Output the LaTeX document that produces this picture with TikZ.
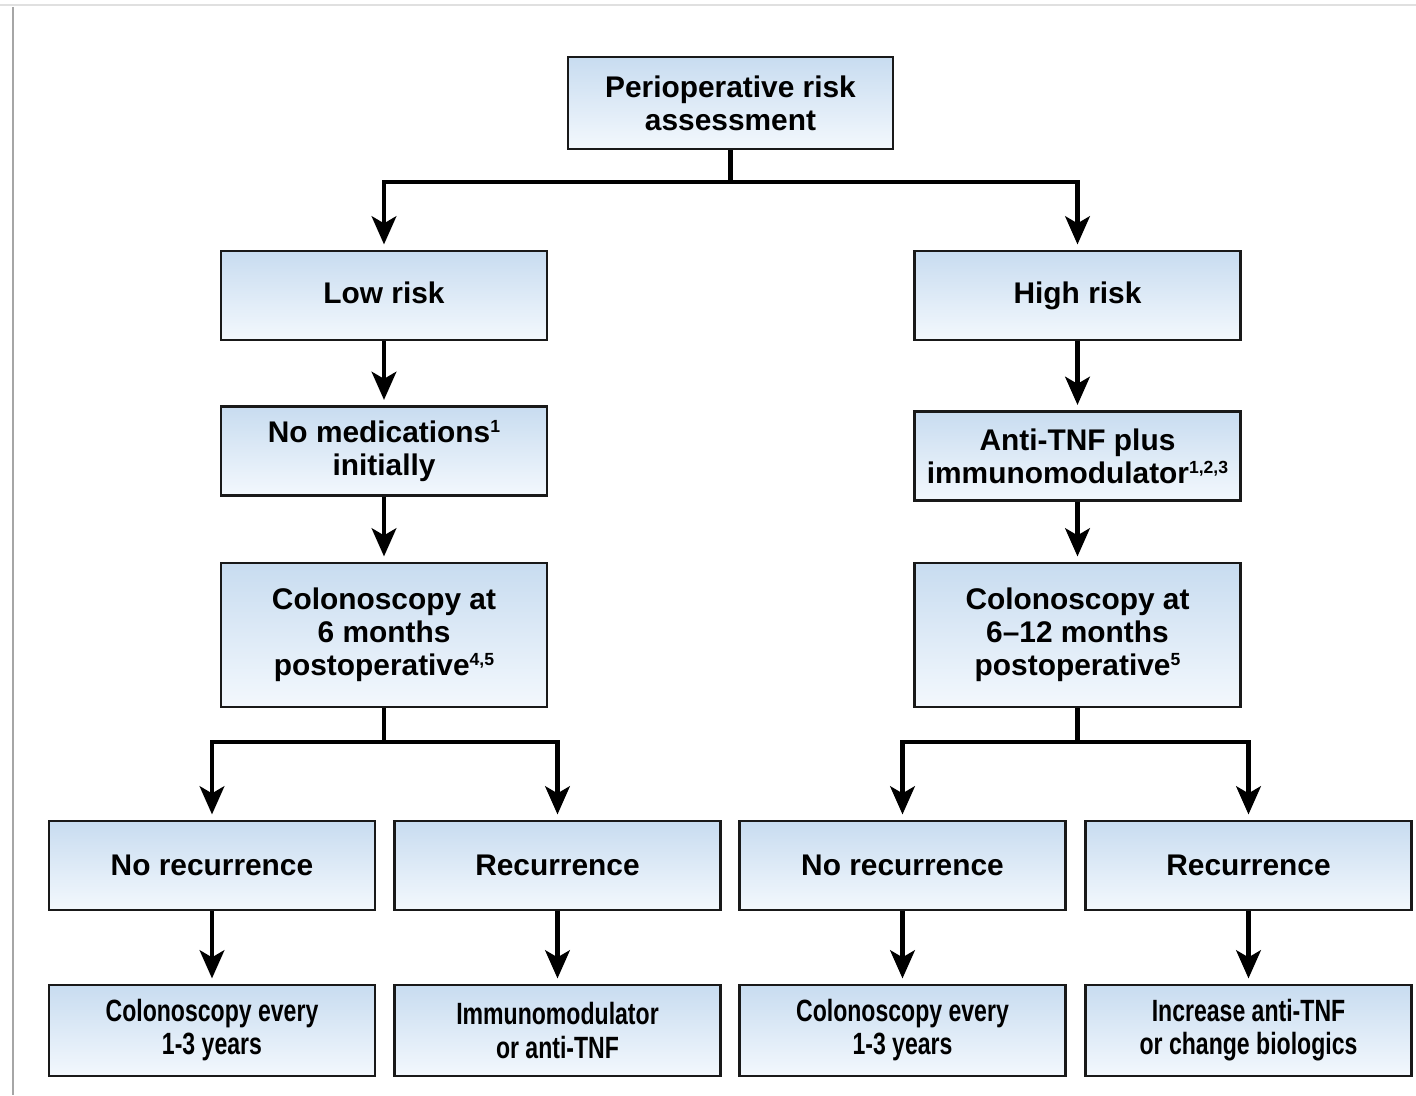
\documentclass[tikz,border=0pt]{standalone}
\usepackage{fontspec}
\setmainfont{Liberation Sans}
\newfontfamily\narrowsans[FakeStretch=0.75]{Liberation Sans}
\usetikzlibrary{arrows.meta}
\definecolor{boxtop}{RGB}{200,220,240}
\definecolor{boxbot}{RGB}{243,248,253}
\newcommand{\supnote}[1]{\raisebox{0.33em}{\fontsize{10}{10}\selectfont #1}}

\begin{document}
\begin{tikzpicture}[x=0.02cm, y=-0.02cm, line join=miter,
	box/.style={draw=black!90, line width=1.5pt, top color=boxtop, bottom color=boxbot,
		minimum width=6.52cm, minimum height=1.78cm, align=center, inner sep=2pt,
		font=\fontsize{17}{18.8}\selectfont\bfseries},
	tallbox/.style={box, minimum height=2.88cm},
	lastbox/.style={box, minimum height=1.82cm, font=\fontsize{17.5}{18.8}\selectfont\narrowsans\bfseries},
	arr/.style={line width=2.5pt, -{Stealth[length=16pt, width=14pt, inset=4pt]}, shorten >=3pt}]
	
	\useasboundingbox (0,0) rectangle (1416,1095);
	
	% frame
	\draw[black!12, line width=1pt] (0,5) -- (1416,5);
	\draw[black!35, line width=1.3pt] (13,7) -- (13,1095);
	
	% top
	\node[box, minimum width=6.5cm, minimum height=1.84cm] (peri) at (730.5,103) {Perioperative risk\\assessment};
	
	% left branch
	\node[box] (low) at (384,295.5) {Low risk\vphantom{g}};
	\node[box] (nomed) at (384,451) {No medications\supnote{1}\\initially};
	\node[tallbox] (colL) at (384,635) {Colonoscopy at\\6 months\\postoperative\supnote{4,5}};
	
	% right branch
	\node[box] (high) at (1077.5,295.5) {High risk};
	\node[box] (antitnf) at (1077.5,456) {Anti-TNF plus\\immunomodulator\supnote{1,2,3}};
	\node[tallbox] (colR) at (1077.5,635) {Colonoscopy at\\6--12 months\\postoperative\supnote{5}};
	
	% outcomes
	\node[box] (norecL) at (212,865.5) {No recurrence};
	\node[box] (recL) at (557.5,865.5) {Recurrence};
	\node[box] (norecR) at (902.5,865.5) {No recurrence};
	\node[box] (recR) at (1248.5,865.5) {Recurrence};
	
	% follow-up
	\node[lastbox] (everyL) at (212,1030.5) {Colonoscopy every\\1-3 years};
	\node[lastbox] (immL) at (557.5,1030.5) {Immunomodulator\\or anti-TNF};
	\node[lastbox] (everyR) at (902.5,1030.5) {Colonoscopy every\\1-3 years};
	\node[lastbox] (incR) at (1248.5,1030.5) {Increase anti-TNF\\or change biologics};
	
	% connectors
	\coordinate (splitT) at (730.5,182);
	\coordinate (splitL) at (384,742);
	\coordinate (splitR) at (1077.5,742);
	\draw[arr] (peri.south) -- (splitT) -| (low.north);
	\draw[arr] (splitT) -| (high.north);
	\draw[arr] (low) -- (nomed);
	\draw[arr] (nomed) -- (colL);
	\draw[arr] (high) -- (antitnf);
	\draw[arr] (antitnf) -- (colR);
	\draw[arr] (colL.south) -- (splitL) -| (norecL.north);
	\draw[arr] (splitL) -| (recL.north);
	\draw[arr] (colR.south) -- (splitR) -| (norecR.north);
	\draw[arr] (splitR) -| (recR.north);
	\draw[arr] (norecL) -- (everyL);
	\draw[arr] (recL) -- (immL);
	\draw[arr] (norecR) -- (everyR);
	\draw[arr] (recR) -- (incR);
	
\end{tikzpicture}
\end{document}
